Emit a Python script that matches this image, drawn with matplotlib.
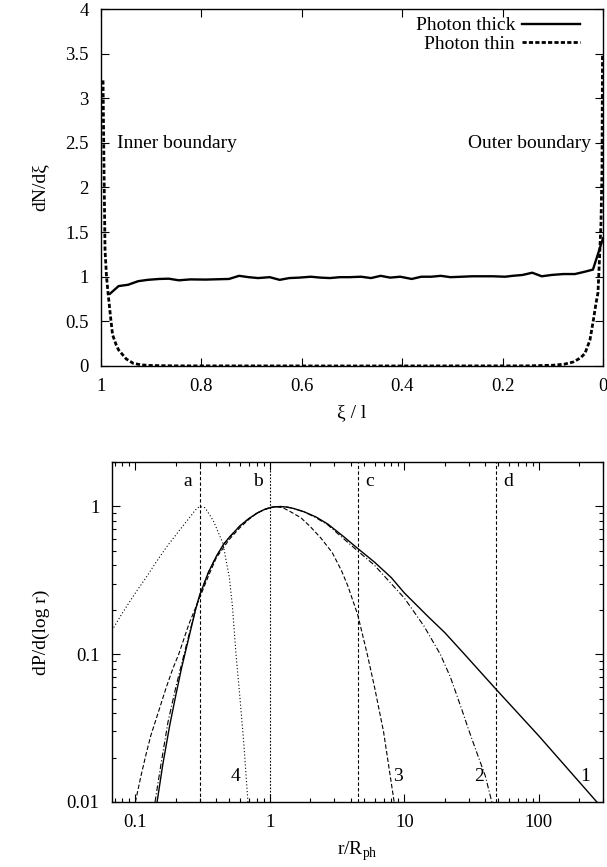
import matplotlib
matplotlib.use("Agg")
import matplotlib.pyplot as plt
from matplotlib.ticker import MultipleLocator, LogLocator, NullFormatter, FuncFormatter

plt.rcParams["font.family"] = ["Liberation Serif", "DejaVu Serif"]
plt.rcParams["mathtext.fontset"] = "custom"
plt.rcParams["mathtext.rm"] = "Liberation Serif"
plt.rcParams["font.size"] = 14
plt.rcParams["xtick.labelsize"] = 13.5
plt.rcParams["ytick.labelsize"] = 13.5

# ---- painel de cima: distribuição em xi ----
xi_thick = [0.982, 0.965, 0.946, 0.926, 0.907, 0.884, 0.865, 0.845, 0.822, 0.791,
            0.745, 0.725, 0.706, 0.687, 0.664, 0.644, 0.625, 0.605, 0.582, 0.563,
            0.544, 0.524, 0.505, 0.482, 0.462, 0.443, 0.424, 0.404, 0.381, 0.362,
            0.342, 0.323, 0.304, 0.281, 0.261, 0.242, 0.219, 0.195, 0.18, 0.16,
            0.141, 0.122, 0.102, 0.079, 0.056, 0.037, 0.02, 0.0]
dn_thick = [0.81, 0.895, 0.91, 0.95, 0.965, 0.975, 0.978, 0.96, 0.97, 0.968,
            0.975, 1.01, 0.995, 0.985, 0.995, 0.965, 0.985, 0.99, 1.0, 0.99,
            0.985, 0.995, 0.995, 1.0, 0.985, 1.01, 0.99, 1.0, 0.975, 1.0,
            1.0, 1.01, 0.995, 1.0, 1.005, 1.005, 1.005, 1.0, 1.01, 1.02,
            1.045, 1.005, 1.02, 1.03, 1.03, 1.055, 1.08, 1.43]

xi_thin = [0.996, 0.994, 0.992, 0.989, 0.986, 0.981, 0.977, 0.97, 0.965, 0.959,
           0.95, 0.936, 0.92, 0.9, 0.85, 0.5, 0.15, 0.1, 0.077, 0.059,
           0.045, 0.036, 0.026, 0.019, 0.014, 0.01, 0.007, 0.004, 0.002, 0.001]
dn_thin = [3.2, 2.2, 1.3, 1.0, 0.82, 0.55, 0.35, 0.24, 0.18, 0.14,
           0.08, 0.03, 0.012, 0.005, 0.001, 0.0, 0.001, 0.008, 0.02, 0.045,
           0.09, 0.14, 0.29, 0.52, 0.7, 0.82, 1.2, 1.6, 2.2, 3.48]

# ---- painel de baixo: dP/d(log r) ----
r1 = [0.145, 0.16, 0.18, 0.2, 0.22, 0.25, 0.28, 0.3, 0.35, 0.4, 0.45, 0.5, 0.6,
      0.7, 0.8, 0.9, 1.0, 1.1, 1.2, 1.35, 1.5, 1.8, 2.2, 2.7, 3.5, 4.5, 6, 8,
      10, 15, 20, 28, 48, 100, 270]
p1 = [0.01, 0.018, 0.033, 0.053, 0.08, 0.13, 0.2, 0.25, 0.36, 0.46, 0.55, 0.62, 0.74,
      0.83, 0.9, 0.95, 0.98, 0.995, 1.0, 0.99, 0.97, 0.92, 0.85, 0.76, 0.63, 0.52,
      0.42, 0.33, 0.26, 0.18, 0.14, 0.1, 0.058, 0.028, 0.01]

r2 = [0.14, 0.155, 0.175, 0.2, 0.22, 0.25, 0.28, 0.3, 0.35, 0.4, 0.45, 0.5, 0.6,
      0.7, 0.8, 0.9, 1.0, 1.1, 1.2, 1.35, 1.5, 1.8, 2.2, 2.7, 3.5, 4.5, 6, 8,
      10, 14, 18.5, 22, 26.8, 30, 34, 40, 44.7]
p2 = [0.01, 0.018, 0.035, 0.06, 0.085, 0.135, 0.2, 0.25, 0.36, 0.46, 0.55, 0.62, 0.74,
      0.83, 0.9, 0.95, 0.98, 0.995, 1.0, 0.99, 0.97, 0.92, 0.84, 0.75, 0.61, 0.5,
      0.4, 0.3, 0.24, 0.155, 0.1, 0.07, 0.042, 0.031, 0.0225, 0.015, 0.01]

r3 = [0.1, 0.11, 0.12, 0.13, 0.15, 0.17, 0.19, 0.21, 0.25, 0.3, 0.35, 0.4, 0.5,
      0.6, 0.7, 0.8, 0.9, 1.0, 1.1, 1.25, 1.4, 1.7, 2.0, 2.4, 2.9, 3.4, 3.8,
      4.5, 5.3, 6, 7, 8.4]
p3 = [0.01, 0.015, 0.021, 0.028, 0.042, 0.06, 0.08, 0.1, 0.16, 0.24, 0.34, 0.45, 0.6,
      0.72, 0.82, 0.9, 0.95, 0.985, 1.0, 0.98, 0.93, 0.84, 0.73, 0.61, 0.49, 0.37,
      0.29, 0.185, 0.1, 0.06, 0.03, 0.01]

r4 = [0.067, 0.08, 0.1, 0.12, 0.14, 0.17, 0.21, 0.25, 0.28, 0.3, 0.33, 0.38,
      0.447, 0.5, 0.527, 0.56, 0.6, 0.64, 0.687]
p4 = [0.145, 0.19, 0.26, 0.33, 0.41, 0.53, 0.68, 0.83, 0.95, 1.0, 0.98, 0.8,
      0.565, 0.33, 0.21, 0.1, 0.05, 0.025, 0.01]

# raios marcados (linhas verticais a, b, c, d)
r_marcas = [0.3, 1.0, 4.5, 48]
nomes_marcas = ["a", "b", "c", "d"]
nomes_curvas = ["1", "2", "3", "4"]
pos_nomes_curvas = [222, 35.7, 9.0, 0.56]

fig = plt.figure(figsize=(6.07, 8.67), dpi=100)

# ==========================================================================
# Painel de cima
# ==========================================================================
ax1 = fig.add_axes([0.1664, 0.5779, 0.8270, 0.4117])
ax1.plot(xi_thick, dn_thick, color="black", lw=1.7, label="Photon thick")
ax1.plot(xi_thin, dn_thin, color="black", lw=2.0, linestyle=(0, (1.5, 0.8)),
         label="Photon thin")
ax1.set_xlim(1, 0)
ax1.set_ylim(0, 4)
ax1.xaxis.set_major_locator(MultipleLocator(0.2))
ax1.yaxis.set_major_locator(MultipleLocator(0.5))
ax1.xaxis.set_major_formatter(FuncFormatter(lambda v, p: "%g" % round(v, 2)))
ax1.yaxis.set_major_formatter(FuncFormatter(lambda v, p: "%g" % round(v, 2)))
ax1.tick_params(direction="in", top=True, right=True, length=6, width=0.8, pad=9)
ax1.set_xlabel("ξ / l", labelpad=6)
ax1.set_ylabel("dN/dξ", labelpad=12)
ax1.text(0.968, 2.49, "Inner boundary", ha="left", va="center")
ax1.text(0.024, 2.49, "Outer boundary", ha="right", va="center")
ax1.legend(loc="upper right", frameon=False, markerfirst=False, handlelength=3.0,
           labelspacing=0.05, borderaxespad=0.0, handletextpad=0.35,
           bbox_to_anchor=(0.97, 1.0))
for s in ax1.spines.values():
    s.set_linewidth(1.0)

# ==========================================================================
# Painel de baixo
# ==========================================================================
ax2 = fig.add_axes([0.1845, 0.0750, 0.8089, 0.3921])
ax2.set_xscale("log")
ax2.set_yscale("log")

estilos_marcas = [(0, (3, 2)), (0, (1.5, 1.5)), (0, (3, 2)), (0, (3, 2))]
for r, nome, ls in zip(r_marcas, nomes_marcas, estilos_marcas):
    ax2.axvline(r, color="black", lw=0.8, linestyle=ls)
    if nome in ("a", "b"):
        ax2.text(r * 0.88, 1.48, nome, ha="right", va="center")
    else:
        ax2.text(r * 1.14, 1.48, nome, ha="left", va="center")

ax2.plot(r1, p1, color="black", lw=1.0)
ax2.plot(r2, p2, color="black", lw=0.8, linestyle=(0, (5, 2, 1, 2)))
ax2.plot(r3, p3, color="black", lw=0.8, linestyle=(0, (4, 2)))
ax2.plot(r4, p4, color="black", lw=0.8, linestyle=(0, (1, 2)))

for nome, r in zip(nomes_curvas, pos_nomes_curvas):
    ax2.text(r, 0.0148, nome, ha="center", va="center")

ax2.set_xlim(0.067, 300)
ax2.set_ylim(0.01, 2)
ax2.xaxis.set_major_locator(LogLocator(base=10, numticks=10))
ax2.xaxis.set_minor_locator(LogLocator(base=10, subs=range(2, 10), numticks=20))
ax2.yaxis.set_major_locator(LogLocator(base=10, numticks=10))
ax2.yaxis.set_minor_locator(LogLocator(base=10, subs=range(2, 10), numticks=20))
ax2.xaxis.set_major_formatter(FuncFormatter(lambda v, p: "%g" % v))
ax2.yaxis.set_major_formatter(FuncFormatter(lambda v, p: "%g" % v))
ax2.xaxis.set_minor_formatter(NullFormatter())
ax2.yaxis.set_minor_formatter(NullFormatter())
ax2.tick_params(which="both", direction="in", top=True, right=True, width=0.8)
ax2.tick_params(which="major", length=6, pad=9)
ax2.tick_params(which="minor", length=3)
ax2.set_xlabel(r"r/R$_{\rm ph}$", labelpad=6)
ax2.set_ylabel("dP/d(log r)", labelpad=12)
for s in ax2.spines.values():
    s.set_linewidth(1.0)

fig.savefig("out.png", dpi=100)
